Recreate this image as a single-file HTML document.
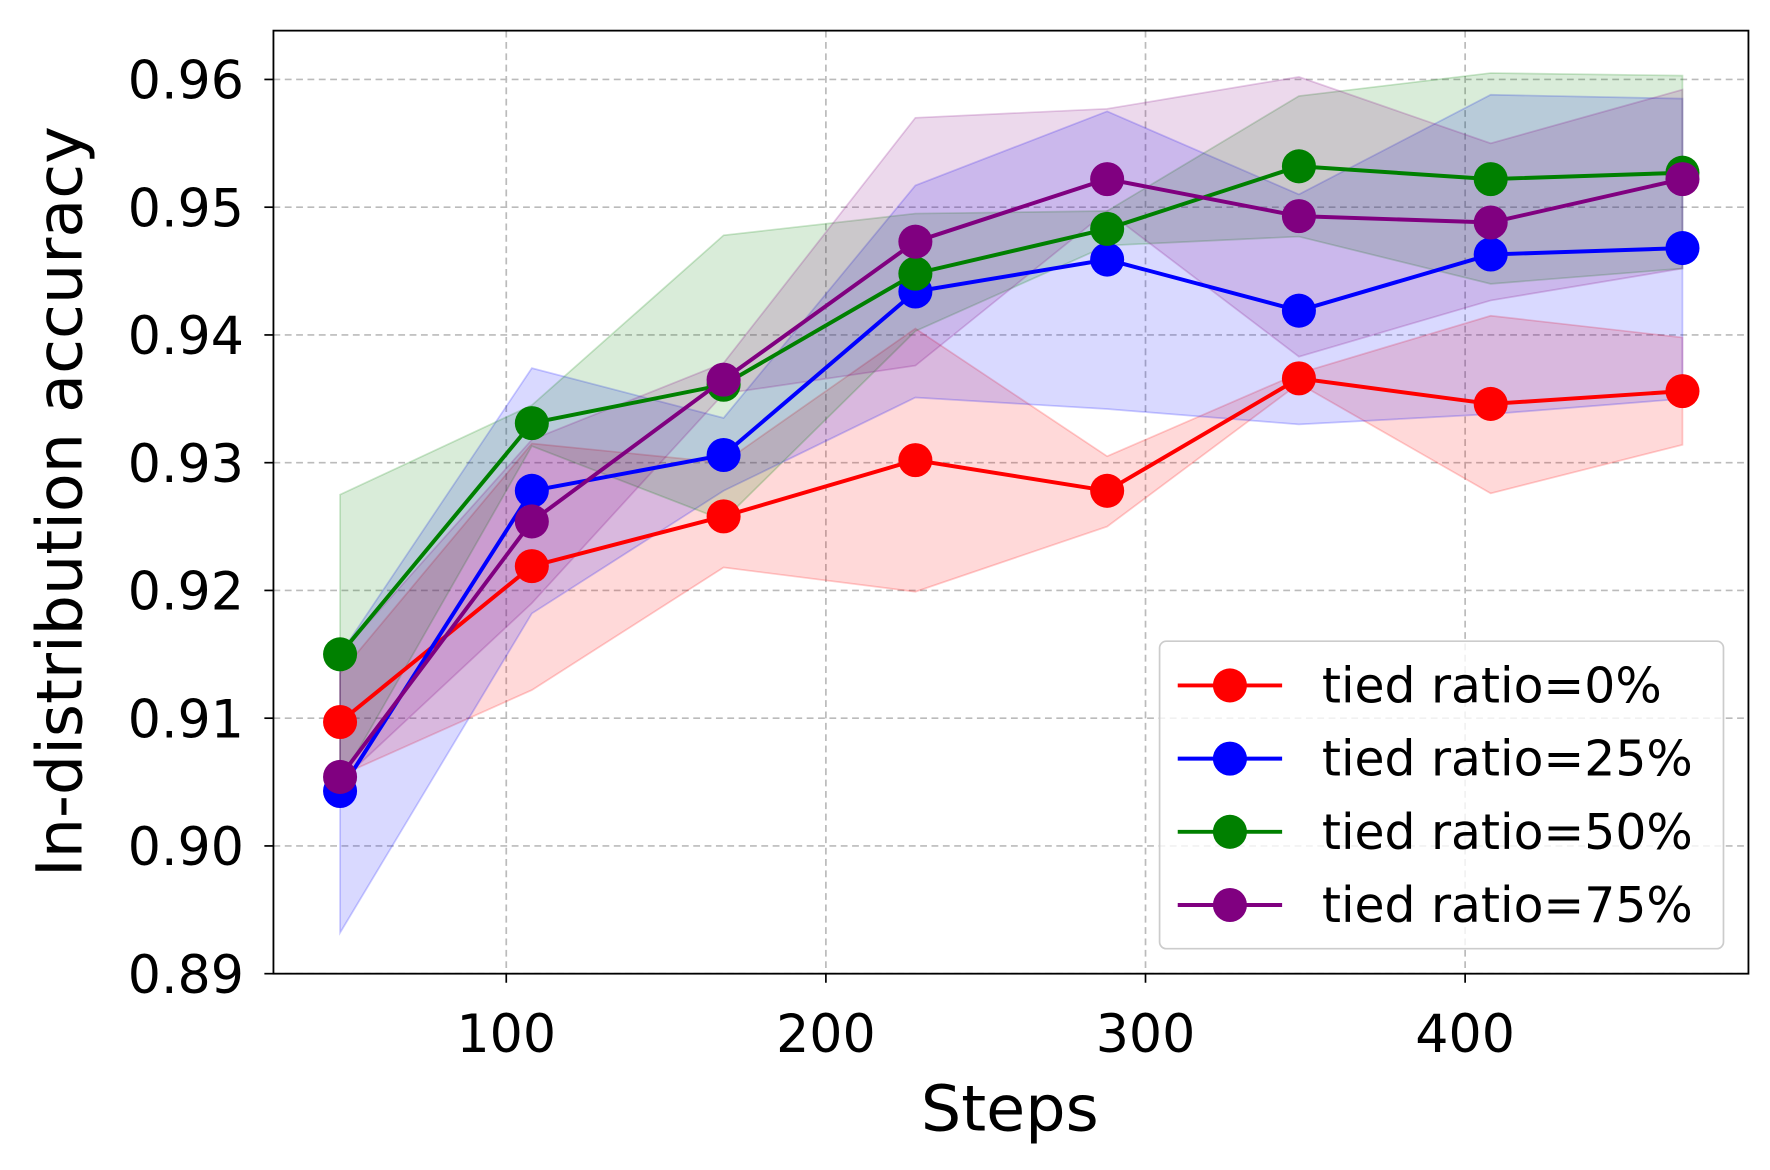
<!DOCTYPE html>
<html><head><meta charset="utf-8"><style>
html,body{margin:0;padding:0;background:#fff;}
svg{display:block;font-family:"DejaVu Sans","Liberation Sans",sans-serif;}
</style></head><body>
<svg id="chart" width="1770" height="1170" viewBox="0 0 1560 1031" preserveAspectRatio="none" xmlns="http://www.w3.org/2000/svg">
<rect x="0" y="0" width="1560" height="1031" fill="#fff"/>
<g id="grid"></g>
<g id="bands"></g>
<g id="lines"></g>
<rect x="241" y="27" width="1300" height="831" fill="none" stroke="#000" stroke-width="1.6"/>
<g id="ticks"></g>
<text x="890" y="996" font-size="56" text-anchor="middle">Steps</text>
<text transform="translate(72,442) rotate(-90)" font-size="56" text-anchor="middle">In-distribution accuracy</text>
<g id="legend"></g>
</svg>
<script>
const steps = [48,108,168,228,288,348,408,468];
const seriesNames = ["tied ratio=0%","tied ratio=25%","tied ratio=50%","tied ratio=75%"];
const seriesColors = ["#ff0000","#0000ff","#008000","#800080"];
const redMean = [0.9097,0.9219,0.9258,0.9302,0.9278,0.9366,0.9346,0.9356];
const blueMean = [0.9043,0.9278,0.9306,0.9434,0.9459,0.9419,0.9463,0.9468];
const greenMean = [0.9150,0.9331,0.9361,0.9448,0.9483,0.9532,0.9522,0.9527];
const purpleMean = [0.9054,0.9254,0.9365,0.9473,0.9522,0.9493,0.9488,0.9522];
const redUpper = [0.9135,0.9315,0.9300,0.9405,0.9305,0.9370,0.9415,0.9398];
const redLower = [0.9055,0.9122,0.9218,0.9199,0.9250,0.9362,0.9276,0.9314];
const blueUpper = [0.9150,0.9374,0.9335,0.9517,0.9575,0.9510,0.9588,0.9585];
const blueLower = [0.8932,0.9182,0.9278,0.9351,0.9342,0.9330,0.9338,0.9350];
const greenUpper = [0.9275,0.9345,0.9478,0.9495,0.9497,0.9587,0.9605,0.9603];
const greenLower = [0.9050,0.9313,0.9255,0.9403,0.9470,0.9477,0.9440,0.9452];
const purpleUpper = [0.9150,0.9318,0.9378,0.9570,0.9577,0.9602,0.9550,0.9592];
const purpleLower = [0.9050,0.9190,0.9354,0.9376,0.9497,0.9383,0.9427,0.9452];
const xTicks = [100,200,300,400];
const yTicks = [0.89,0.90,0.91,0.92,0.93,0.94,0.95,0.96];
const yTickLabels = ["0.89","0.90","0.91","0.92","0.93","0.94","0.95","0.96"];

const NS="http://www.w3.org/2000/svg";
function xs(v){return 164.5+v*2.817;}
function ys(v){return 858-(v-0.89)*11257;}
function mk(tag,parent){const e=document.createElementNS(NS,tag);parent.appendChild(e);return e;}
const means=[redMean,blueMean,greenMean,purpleMean];
const uppers=[redUpper,blueUpper,greenUpper,purpleUpper];
const lowers=[redLower,blueLower,greenLower,purpleLower];
const grid=document.getElementById('grid'),bands=document.getElementById('bands'),lines=document.getElementById('lines'),ticks=document.getElementById('ticks'),legend=document.getElementById('legend');
xTicks.forEach(t=>{
  const l=mk('line',grid);
  
  
  l.setAttribute('x1',xs(t));l.setAttribute('x2',xs(t));l.setAttribute('y1',27);l.setAttribute('y2',858);
  l.setAttribute('stroke','#bbb');l.setAttribute('stroke-width','1.5');l.setAttribute('stroke-dasharray','6,4');
  const k=mk('line',ticks);
  
  
  k.setAttribute('x1',xs(t));k.setAttribute('x2',xs(t));k.setAttribute('y1',858);k.setAttribute('y2',866);k.setAttribute('stroke','#000');k.setAttribute('stroke-width','1.5');
  const tx=mk('text',ticks);
  
  
  tx.setAttribute('x',xs(t));tx.setAttribute('y',927);tx.setAttribute('font-size','46');tx.setAttribute('text-anchor','middle');tx.textContent=t;
});
yTicks.forEach((t,i)=>{
  const l=mk('line',grid);
  
  
  l.setAttribute('x1',241);l.setAttribute('x2',1541);l.setAttribute('y1',ys(t));l.setAttribute('y2',ys(t));
  l.setAttribute('stroke','#bbb');l.setAttribute('stroke-width','1.5');l.setAttribute('stroke-dasharray','6,4');
  const k=mk('line',ticks);
  
  
  k.setAttribute('x1',233);k.setAttribute('x2',241);k.setAttribute('y1',ys(t));k.setAttribute('y2',ys(t));k.setAttribute('stroke','#000');k.setAttribute('stroke-width','1.5');
  const tx=mk('text',ticks);
  
  
  tx.setAttribute('x',215);tx.setAttribute('y',ys(t)+17);tx.setAttribute('font-size','46');tx.setAttribute('text-anchor','end');tx.textContent=yTickLabels[i];
});
means.forEach((m,s)=>{
  const up=uppers[s].map((v,i)=>xs(steps[i])+','+ys(v));
  const lo=lowers[s].map((v,i)=>xs(steps[i])+','+ys(v)).reverse();
  const p=mk('polygon',bands);
  
  
  p.setAttribute('points',up.concat(lo).join(' '));
  p.setAttribute('fill',seriesColors[s]);p.setAttribute('fill-opacity','0.15');
  p.setAttribute('stroke',seriesColors[s]);p.setAttribute('stroke-opacity','0.2');p.setAttribute('stroke-width','1.5');
});
means.forEach((m,s)=>{
  const pl=mk('polyline',lines);
  
  
  pl.setAttribute('points',m.map((v,i)=>xs(steps[i])+','+ys(v)).join(' '));
  pl.setAttribute('fill','none');pl.setAttribute('stroke',seriesColors[s]);pl.setAttribute('stroke-width','3.5');
  m.forEach((v,i)=>{
    const c=mk('circle',lines);
    
    
    c.setAttribute('cx',xs(steps[i]));c.setAttribute('cy',ys(v));c.setAttribute('r','15');c.setAttribute('fill',seriesColors[s]);
  });
});
const box=mk('rect',legend);


box.setAttribute('x',1022);box.setAttribute('y',565);box.setAttribute('width',497);box.setAttribute('height',271);box.setAttribute('rx',6);
box.setAttribute('fill','#fff');box.setAttribute('fill-opacity','0.8');box.setAttribute('stroke','#ccc');box.setAttribute('stroke-width','1.5');
seriesNames.forEach((n,s)=>{
  const y=604+s*64.5;
  const g=mk('g',legend);
  
  
  const l=mk('line',g);
  l.setAttribute('x1',1038);l.setAttribute('x2',1130);l.setAttribute('y1',y);l.setAttribute('y2',y);l.setAttribute('stroke',seriesColors[s]);l.setAttribute('stroke-width','3.5');
  const c=mk('circle',g);
  c.setAttribute('cx',1084);c.setAttribute('cy',y);c.setAttribute('r','15');c.setAttribute('fill',seriesColors[s]);
  const t=mk('text',g);
  t.setAttribute('x',1165);t.setAttribute('y',y+15);t.setAttribute('font-size','43');t.textContent=n;
});
</script>
</body></html>
